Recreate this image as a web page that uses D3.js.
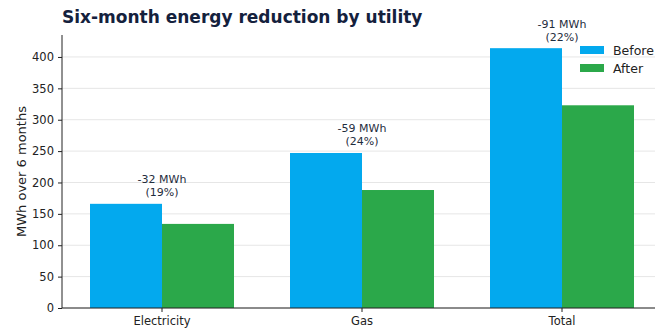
<!DOCTYPE html>
<html><head><meta charset="utf-8">
<script src="https://cdn.jsdelivr.net/npm/d3@7"></script>
<style>body{margin:0;background:#fff;}svg{display:block;font-family:"DejaVu Sans",sans-serif;}</style>
</head><body><svg id="c" width="665" height="328"></svg>
<script>
const categories = ["Electricity", "Gas", "Total"];
const beforeVals = [166, 247, 414];
const afterVals = [134, 188, 323];
const reductionLabels = ["-32 MWh", "-59 MWh", "-91 MWh"];
const pctLabels = ["(19%)", "(24%)", "(22%)"];
const yTicks = [0, 50, 100, 150, 200, 250, 300, 350, 400];
const seriesNames = ["Before", "After"];
const colors = ["#03A9EE", "#2BA84A"];

const svg = d3.select("#c");
const m = {l: 62, r: 3, t: 35, b: 20};
const W = 665, H = 328;
const x = d3.scaleBand().domain(categories).range([m.l, W - m.r]).paddingInner(0).paddingOuter(0);
const y = d3.scaleLinear().domain([0, 435]).range([H - m.b, m.t]);
const inner = d3.scaleBand().domain(seriesNames).range([x.bandwidth()*0.14, x.bandwidth()*0.86]);

// grid
svg.append("g").selectAll("line").data(yTicks).join("line")
  .attr("x1", m.l).attr("x2", W - m.r - 7)
  .attr("y1", d => y(d)).attr("y2", d => y(d))
  .attr("stroke", "#e6e6e6").attr("stroke-width", 1);

const data = categories.map((c, i) => ({c, vals: [beforeVals[i], afterVals[i]]}));
const g = svg.append("g");
data.forEach((d, i) => {
  d.vals.forEach((v, j) => {
    g.append("rect")
      .attr("x", x(d.c) + inner(seriesNames[j]))
      .attr("width", inner.bandwidth())
      .attr("y", y(v)).attr("height", y(0) - y(v))
      .attr("fill", colors[j]);
  });
  const cx = x(d.c) + x.bandwidth()/2;
  const top = y(d3.max(d.vals));
  svg.append("text").attr("x", cx).attr("y", top - 20.5).attr("text-anchor", "middle")
    .attr("font-size", 11).attr("fill", "#1f2d3d").text(reductionLabels[i]);
  svg.append("text").attr("x", cx).attr("y", top - 7.5).attr("text-anchor", "middle")
    .attr("font-size", 11).attr("fill", "#1f2d3d").text(pctLabels[i]);
});

// axes
const ya = svg.append("g").attr("transform", `translate(${m.l},0)`)
  .call(d3.axisLeft(y).tickValues(yTicks).tickSize(4).tickPadding(4));
ya.select(".domain").attr("d", `M0,${y(0)}V${m.t}`).attr("stroke", "#222");
ya.selectAll("text").attr("font-size", 11.5).attr("fill", "#222").attr("font-family", "DejaVu Sans");
ya.selectAll(".tick line").attr("stroke", "#222");

const xa = svg.append("g").attr("transform", `translate(0,${y(0)})`)
  .call(d3.axisBottom(x).tickSize(4).tickPadding(5));
xa.select(".domain").attr("d", `M${m.l},0H${W - m.r - 7}`).attr("stroke", "#222");
xa.selectAll("text").attr("font-size", 11.5).attr("fill", "#222").attr("font-family", "DejaVu Sans");
xa.selectAll(".tick line").attr("stroke", "#222");

// y label
svg.append("text").attr("transform", `translate(26,${(y(0)+m.t)/2}) rotate(-90)`)
  .attr("text-anchor", "middle").attr("font-size", 13).attr("fill", "#222").text("MWh over 6 months");

// title
svg.append("text").attr("x", 62).attr("y", 23).attr("font-size", 17).attr("font-weight", "bold")
  .attr("fill", "#14213d").text("Six-month energy reduction by utility");

// legend
const lg = svg.append("g");
seriesNames.forEach((s, i) => {
  lg.append("rect").attr("x", 580).attr("y", 46 + i*18).attr("width", 24).attr("height", 8).attr("fill", colors[i]);
  lg.append("text").attr("x", 613).attr("y", 55 + i*18).attr("font-size", 12.5).attr("fill", "#222").text(s);
});
</script></body></html>
